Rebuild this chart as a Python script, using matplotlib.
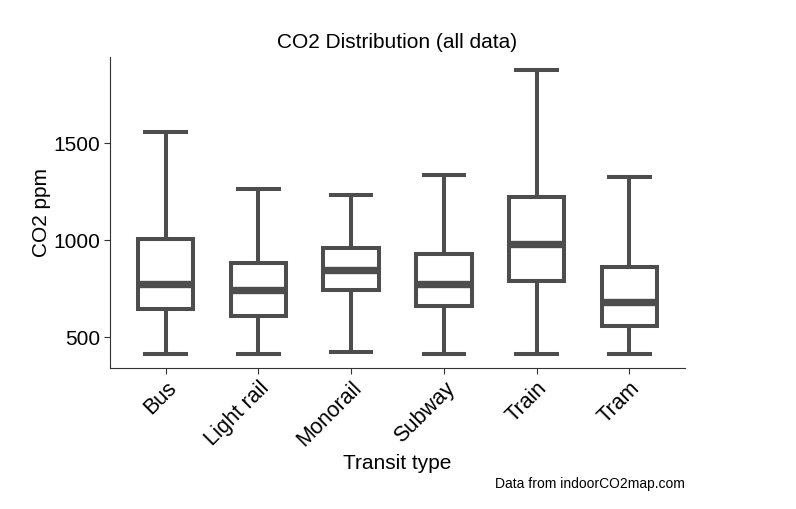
import matplotlib
matplotlib.use('Agg')
import matplotlib.pyplot as plt

plt.rcParams['font.family'] = ['Liberation Sans', 'DejaVu Sans']

# transit types and box stats (ppm)
categories = ['Bus', 'Light rail', 'Monorail', 'Subway', 'Train', 'Tram']
whisker_low = [412, 414, 423, 412, 414, 412]
q1 = [644, 610, 745, 661, 789, 560]
median = [776, 744, 845, 773, 983, 684]
q3 = [1008, 883, 960, 931, 1222, 864]
whisker_high = [1560, 1265, 1234, 1337, 1878, 1325]

line_col = '#4d4d4d'

# build stats for bxp
stats = []
for i, name in enumerate(categories):
    stats.append({
        'label': name,
        'whislo': whisker_low[i],
        'q1': q1[i],
        'med': median[i],
        'q3': q3[i],
        'whishi': whisker_high[i],
        'fliers': [],
    })

fig = plt.figure(figsize=(7.96, 5.09), dpi=100)
ax = fig.add_axes([110 / 796, 1 - 368 / 509, 575 / 796, 311 / 509])

positions = list(range(1, len(categories) + 1))
ax.bxp(stats, positions=positions, widths=0.6, showfliers=False,
       patch_artist=True,
       boxprops=dict(facecolor='white', edgecolor=line_col, linewidth=2.9,
                     joinstyle='miter'),
       medianprops=dict(color=line_col, linewidth=5.3, solid_capstyle='butt'),
       whiskerprops=dict(color=line_col, linewidth=2.9, solid_capstyle='butt'),
       capprops=dict(color=line_col, linewidth=2.9, solid_capstyle='butt'),
       capwidths=0.48)

ax.set_xlim(0.4, 6.6)
ax.set_ylim(342, 1945)
ax.set_yticks([500, 1000, 1500])
ax.set_xticks(positions)
ax.set_xticklabels(categories, rotation=45, ha='right', va='top',
                   rotation_mode='anchor', fontsize=15.5)
ax.tick_params(axis='y', labelsize=15)
ax.tick_params(axis='both', length=4, width=0.8, color='#333333',
               labelcolor='black', pad=3)

for side in ['top', 'right']:
    ax.spines[side].set_visible(False)
for side in ['left', 'bottom']:
    ax.spines[side].set_color('#333333')
    ax.spines[side].set_linewidth(0.8)

ax.set_xlabel('Transit type', fontsize=15, labelpad=2.5)
ax.set_ylabel('CO2 ppm', fontsize=15, labelpad=1.5)

fig.text(397.5 / 796, 1 - 42 / 509, 'CO2 Distribution (all data)',
         ha='center', va='center', fontsize=15)
fig.text(685 / 796, 1 - 484 / 509, 'Data from indoorCO2map.com',
         ha='right', va='center', fontsize=10)

fig.savefig('out.png', dpi=100)
